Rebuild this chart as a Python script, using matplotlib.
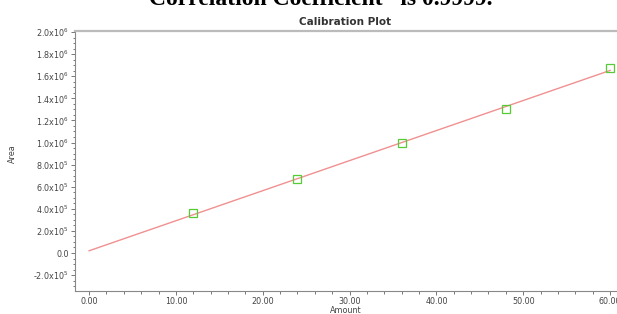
import numpy as np
import matplotlib
matplotlib.use("Agg")
import matplotlib.pyplot as plt
from matplotlib.ticker import MultipleLocator, FixedLocator

# calibration standards
amounts = [12.0, 24.0, 36.0, 48.0, 60.0]
areas = [3.6e5, 6.67e5, 9.93e5, 1.303e6, 1.674e6]

y_ticks = [-2e5, 0, 2e5, 4e5, 6e5, 8e5, 1e6, 1.2e6, 1.4e6, 1.6e6, 1.8e6, 2e6]
y_labels = ["-2.0x10$^5$", "0.0", "2.0x10$^5$", "4.0x10$^5$", "6.0x10$^5$",
            "8.0x10$^5$", "1.0x10$^6$", "1.2x10$^6$", "1.4x10$^6$",
            "1.6x10$^6$", "1.8x10$^6$", "2.0x10$^6$"]
x_ticks = [0, 10, 20, 30, 40, 50, 60]


def main():
    fig = plt.figure(figsize=(6.17, 3.14), dpi=100)
    ax = fig.add_axes([0.1216, 0.0732, 0.8784, 0.828])

    # regression line over 0..60
    slope, intercept = np.polyfit(amounts, areas, 1)
    xs = np.array([0.0, 60.0])
    ax.plot(xs, slope * xs + intercept, color="#f09090", lw=1.0, zorder=2)
    ax.plot(amounts, areas, ls="none", marker="s", ms=5.5, mfc="none",
            mec="#55cc33", mew=0.9, zorder=3)

    ax.set_xlim(-1.62, 60.8)
    ax.set_ylim(-3.44e5, 2.009e6)

    ax.xaxis.set_major_locator(FixedLocator(x_ticks))
    ax.set_xticklabels(["%.2f" % v for v in x_ticks])
    ax.xaxis.set_minor_locator(MultipleLocator(2))
    ax.yaxis.set_major_locator(FixedLocator(y_ticks))
    ax.set_yticklabels(y_labels)
    ax.yaxis.set_minor_locator(MultipleLocator(5e4))

    ax.tick_params(which="both", direction="out", colors="#777777",
                   labelcolor="#444444", labelsize=5.8, width=0.7)
    ax.tick_params(which="major", length=3, pad=1.5)
    ax.tick_params(which="minor", length=1.8)

    for side in ["left", "bottom"]:
        ax.spines[side].set_color("#888888")
        ax.spines[side].set_linewidth(0.8)
    ax.spines["top"].set_color("#bbbbbb")
    ax.spines["top"].set_linewidth(1.6)
    ax.spines["right"].set_visible(False)

    ax.set_xlabel("Amount", fontsize=5.8, color="#444444", labelpad=0)
    fig.text(0.02, 0.51, "Area", rotation=90, fontsize=5.8, color="#444444",
             ha="center", va="center")
    fig.text(0.56, 0.93, "Calibration Plot", fontsize=7.5, fontweight="bold",
             color="#333333", ha="center", va="center")
    fig.text(0.52, 0.984, "Correlation Coefficient\u201d is 0.9999.",
             fontsize=17, fontweight="bold", family="Liberation Serif",
             ha="center", va="baseline")

    fig.savefig("out.png", dpi=100)


if __name__ == "__main__":
    main()
